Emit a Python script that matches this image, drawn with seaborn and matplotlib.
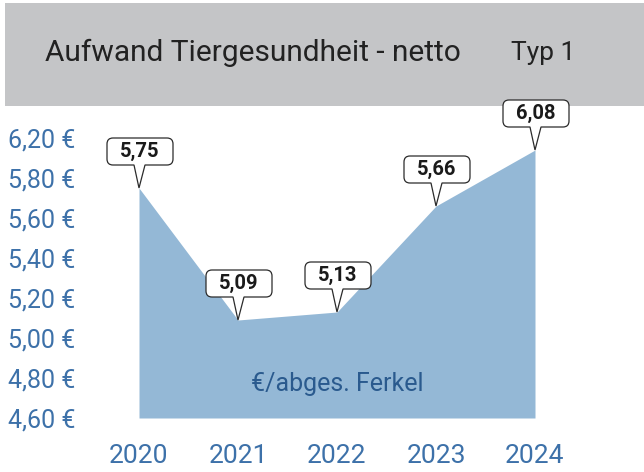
import numpy as np
import pandas as pd
import matplotlib
matplotlib.use("Agg")
import matplotlib.pyplot as plt
import matplotlib.transforms as mtransforms
from matplotlib.path import Path
from matplotlib.patches import PathPatch, Rectangle
import seaborn as sns

years = [2020, 2021, 2022, 2023, 2024]
values = [5.75, 5.09, 5.13, 5.66, 6.08]
value_labels = ["5,75", "5,09", "5,13", "5,66", "6,08"]
ytick_values = [4.6, 4.8, 5.0, 5.2, 5.4, 5.6, 5.8, 6.2]
ytick_labels = ["4,60 €", "4,80 €", "5,00 €", "5,20 €", "5,40 €", "5,60 €", "5,80 €", "6,20 €"]
title = "Aufwand Tiergesundheit - netto"
subtitle = "Typ 1"
unit_label = "€/abges. Ferkel"

AREA = "#94b8d6"
TICK_BLUE = "#3d71a9"
TEXT_BLUE = "#2a5a8e"
BAND = "#c4c5c7"

sns.set_theme(style="white")
plt.rcParams["font.family"] = ["Roboto", "DejaVu Sans"]

df = pd.DataFrame({"year": years, "value": values})


# y axis jumps from 5,80 straight to 6,20 (one step of 0.4 drawn like 0.2)
def fwd(y):
    y = np.asarray(y, dtype=float)
    return np.where(y <= 5.8, y, 5.8 + (y - 5.8) / 2)


def inv(u):
    u = np.asarray(u, dtype=float)
    return np.where(u <= 5.8, u, 5.8 + (u - 5.8) * 2)


fig = plt.figure(figsize=(6.44, 4.72), dpi=100)
fig.patches.append(Rectangle((5 / 644, (472 - 106) / 472), 639 / 644, 103 / 472,
                             transform=fig.transFigure, facecolor=BAND,
                             edgecolor="none", zorder=-1))
fig.text(45 / 644, (472 - 53) / 472, title, fontsize=21.5, color="#222222",
         ha="left", va="center")
fig.text(511 / 644, (472 - 53) / 472, subtitle, fontsize=19, color="#222222",
         ha="left", va="center")

ax = fig.add_axes([89.5 / 644, 54 / 472, 544.5 / 644, 312 / 472])
ax.set_facecolor("none")
ax.set_yscale("function", functions=(fwd, inv))

sns.lineplot(data=df, x="year", y="value", ax=ax, color=AREA, linewidth=0)
ax.fill_between(df["year"], 4.6, df["value"], color=AREA, linewidth=0)

ax.set_xlim(2019.5, 2025)
ax.set_ylim(4.6, 6.52)
ax.set_xticks(years)
ax.set_xticklabels([str(y) for y in years], fontsize=19, color=TICK_BLUE)
ax.set_yticks(ytick_values)
ax.set_yticklabels(ytick_labels, fontsize=18, color=TICK_BLUE)
ax.minorticks_off()
ax.tick_params(axis="y", length=0, pad=10)
ax.tick_params(axis="x", length=0, pad=19)
ax.set_xlabel("")
ax.set_ylabel("")
for s in ax.spines.values():
    s.set_visible(False)

ax.text(2022, 4.77, unit_label, fontsize=18, color=TEXT_BLUE,
        ha="center", va="center")


def callout_path(left=-32, right=34, base=23, top=50, half=5, r=6):
    verts = [(0, 0), (half + 1, base), (right - r, base), (right, base), (right, base + r),
             (right, top - r), (right, top), (right - r, top), (left + r, top),
             (left, top), (left, top - r), (left, base + r), (left, base),
             (left + r, base), (-half, base), (0, 0)]
    codes = [Path.MOVETO, Path.LINETO, Path.LINETO, Path.CURVE3, Path.CURVE3,
             Path.LINETO, Path.CURVE3, Path.CURVE3, Path.LINETO,
             Path.CURVE3, Path.CURVE3, Path.LINETO, Path.CURVE3, Path.CURVE3,
             Path.LINETO, Path.CLOSEPOLY]
    return Path(np.array(verts) / 100.0, codes)


for x, v, lab in zip(years, values, value_labels):
    tr = fig.dpi_scale_trans + mtransforms.ScaledTranslation(x, v, ax.transData)
    patch = PathPatch(callout_path(), transform=tr, facecolor="white",
                      edgecolor="#2b2b2b", linewidth=0.9, zorder=5, clip_on=False)
    ax.add_artist(patch)
    ax.text(0.01, 0.365, lab, transform=tr, fontsize=14.5, fontweight="bold",
            color="#1a1a1a", ha="center", va="center", zorder=6, clip_on=False)

fig.savefig("out.png", dpi=100)
